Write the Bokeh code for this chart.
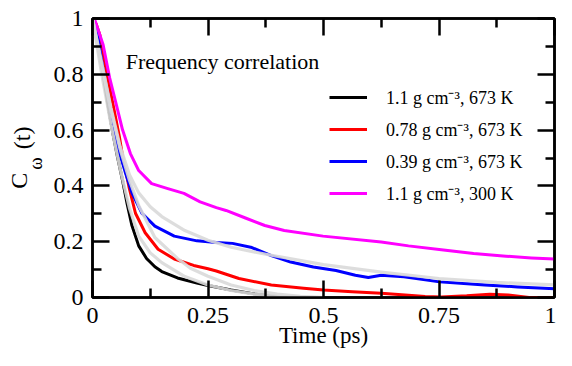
from bokeh.plotting import figure
from bokeh.layouts import row
from bokeh.models import (Range1d, LinearAxis, FixedTicker, CustomJSTickFormatter,
                          Label, Legend, LegendItem)
from bokeh.embed import file_html
from bokeh.resources import INLINE
import math

# ---- data ----
black_t = [0, 0.012, 0.023, 0.033, 0.044, 0.054, 0.065, 0.075, 0.085, 0.1, 0.117, 0.135,
           0.15, 0.184, 0.226, 0.25, 0.3, 0.35, 0.4, 0.45, 0.5]
black_c = [1, 0.906, 0.80, 0.695, 0.589, 0.505, 0.42, 0.335, 0.26, 0.185, 0.14, 0.11,
           0.093, 0.07, 0.052, 0.043, 0.027, 0.013, 0.004, 0.0, 0.0]

red_t = [0, 0.008, 0.016, 0.03, 0.044, 0.058, 0.065, 0.079, 0.093, 0.114, 0.142, 0.177,
         0.219, 0.25, 0.268, 0.317, 0.387, 0.457, 0.5, 0.562, 0.625, 0.684, 0.72, 0.755,
         0.81, 0.86, 0.9, 0.945, 1.0]
red_c = [1, 0.98, 0.941, 0.812, 0.695, 0.578, 0.507, 0.396, 0.302, 0.232, 0.173, 0.138,
         0.115, 0.103, 0.095, 0.068, 0.045, 0.033, 0.027, 0.021, 0.015, 0.008, 0.004, 0.002,
         0.006, 0.012, 0.009, 0.0, 0.0]

blue_t = [0, 0.012, 0.026, 0.037, 0.047, 0.058, 0.072, 0.086, 0.107, 0.135, 0.177, 0.226,
          0.268, 0.303, 0.345, 0.387, 0.429, 0.478, 0.527, 0.569, 0.597, 0.625, 0.674, 0.751,
          0.849, 0.92, 1.0]
blue_c = [1, 0.929, 0.788, 0.695, 0.601, 0.52, 0.443, 0.373, 0.302, 0.256, 0.220, 0.203,
          0.197, 0.194, 0.179, 0.150, 0.127, 0.109, 0.097, 0.08, 0.072, 0.08, 0.074, 0.056,
          0.045, 0.038, 0.031]

magenta_t = [0, 0.005, 0.023, 0.037, 0.051, 0.065, 0.082, 0.1, 0.128, 0.163, 0.198, 0.233,
             0.268, 0.289, 0.331, 0.373, 0.415, 0.499, 0.625, 0.684, 0.755, 0.825, 0.895,
             0.95, 1.0]
magenta_c = [1, 0.995, 0.906, 0.788, 0.695, 0.601, 0.516, 0.455, 0.408, 0.390, 0.373, 0.343,
             0.322, 0.312, 0.285, 0.258, 0.240, 0.220, 0.199, 0.185, 0.171, 0.158, 0.148,
             0.142, 0.138]

fitA_t = [0, 0.02, 0.04, 0.06, 0.08, 0.1, 0.125, 0.15, 0.2, 0.25, 0.3, 0.35, 0.4, 0.45, 0.5]
fitA_c = [1, 0.80, 0.62, 0.46, 0.32, 0.22, 0.16, 0.125, 0.075, 0.045, 0.025, 0.012, 0.005,
          0.001, 0.0]
fitB_t = [0, 0.02, 0.04, 0.06, 0.08, 0.1, 0.135, 0.184, 0.212, 0.25, 0.3, 0.35, 0.4, 0.45, 0.5]
fitB_c = [1, 0.83, 0.67, 0.53, 0.42, 0.33, 0.215, 0.14, 0.105, 0.076, 0.045, 0.025, 0.012,
          0.004, 0.0]
fitC_t = [0, 0.02, 0.04, 0.06, 0.08, 0.1, 0.125, 0.15, 0.2, 0.25, 0.3, 0.375, 0.5, 0.625,
          0.75, 0.875, 1.0]
fitC_c = [1, 0.84, 0.68, 0.54, 0.44, 0.375, 0.325, 0.29, 0.24, 0.205, 0.18, 0.155, 0.118,
          0.091, 0.068, 0.054, 0.045]

legend_labels = ["1.1 g cm\u207b\u00b3, 673 K", "0.78 g cm\u207b\u00b3, 673 K",
                 "0.39 g cm\u207b\u00b3, 673 K", "1.1 g cm\u207b\u00b3, 300 K"]
x_ticks = [0, 0.25, 0.5, 0.75, 1]
x_minor = [0.125, 0.375, 0.625, 0.875]
y_ticks = [0, 0.2, 0.4, 0.6, 0.8, 1]
y_minor = [0.1, 0.3, 0.5, 0.7, 0.9]

FONT = "Liberation Serif"
H = 350
LEFT_W = 50

# ---- main plot ----
p = figure(width=556 - LEFT_W, height=H, output_backend="svg", toolbar_location=None,
           x_range=Range1d(0, 1), y_range=Range1d(0, 1),
           min_border_left=92 - LEFT_W, min_border_right=2, min_border_top=18,
           min_border_bottom=52)
p.xgrid.visible = False
p.ygrid.visible = False
p.outline_line_color = "black"
p.outline_line_width = 2.5

# ---- narrow strip on the left holding the y-axis title C_omega (t) ----
# it shares the main plot's vertical range, so the title is placed along the axis
lp = figure(width=LEFT_W, height=H, output_backend="svg", toolbar_location=None,
            x_range=Range1d(0, LEFT_W), y_range=p.y_range,
            x_axis_type=None, y_axis_type=None, min_border=0,
            min_border_left=0, min_border_right=0, min_border_top=18, min_border_bottom=52)
lp.xgrid.visible = False
lp.ygrid.visible = False
lp.outline_line_color = None

def ylab(text, x, y, size):
    lp.add_layout(Label(x=x, y=y, text=text, angle=math.pi / 2, text_font=FONT,
                        text_font_size=size, text_color="black", text_align="left",
                        text_baseline="alphabetic"))

ylab("C", 18, 0.3895, "24px")
ylab("\u03c9", 35, 0.4579, "19px")
ylab("(t)", 21.5, 0.5316, "24px")

fmt = CustomJSTickFormatter(code="return String(Number(tick.toFixed(2)))")
blank = CustomJSTickFormatter(code="return ''")

def style_axis(ax, ticks, minor, labels=True):
    ax.ticker = FixedTicker(ticks=ticks, minor_ticks=minor)
    ax.formatter = fmt if labels else blank
    ax.axis_line_width = 2.5
    ax.axis_line_color = "black"
    ax.major_tick_in = 17
    ax.major_tick_out = 0
    ax.minor_tick_in = 9
    ax.minor_tick_out = 0
    ax.major_tick_line_width = 2.5
    ax.minor_tick_line_width = 2.5
    ax.major_label_text_font = FONT
    ax.major_label_text_font_size = "24px"
    ax.major_label_text_color = "black"

style_axis(p.xaxis[0], x_ticks, x_minor)
style_axis(p.yaxis[0], y_ticks, y_minor)
p.xaxis[0].major_label_standoff = 10
p.yaxis[0].major_label_standoff = 9
p.xaxis[0].axis_label = "Time (ps)"
p.xaxis[0].axis_label_text_font = FONT
p.xaxis[0].axis_label_text_font_size = "23px"
p.xaxis[0].axis_label_text_font_style = "normal"
p.xaxis[0].axis_label_text_color = "black"
p.xaxis[0].axis_label_standoff = -3

top = LinearAxis()
style_axis(top, x_ticks, x_minor, labels=False)
p.add_layout(top, "above")
right = LinearAxis()
style_axis(right, y_ticks, y_minor, labels=False)
p.add_layout(right, "right")

lw = 3
r_black = p.line(black_t, black_c, line_color="black", line_width=lw, line_join="round")
r_red = p.line(red_t, red_c, line_color="#ff0000", line_width=lw, line_join="round")
r_blue = p.line(blue_t, blue_c, line_color="#0000ff", line_width=lw, line_join="round")
r_mag = p.line(magenta_t, magenta_c, line_color="#ff00ff", line_width=lw, line_join="round")

gray = "#d9d9d9"
for ft, fc in [(fitA_t, fitA_c), (fitB_t, fitB_c), (fitC_t, fitC_c)]:
    p.line(ft, fc, line_color=gray, line_width=3.2, line_join="round", line_alpha=0.9)

legend = Legend(items=[LegendItem(label=legend_labels[0], renderers=[r_black]),
                       LegendItem(label=legend_labels[1], renderers=[r_red]),
                       LegendItem(label=legend_labels[2], renderers=[r_blue]),
                       LegendItem(label=legend_labels[3], renderers=[r_mag])],
                location=(237, 92))
legend.border_line_color = None
legend.background_fill_alpha = 0
legend.padding = 0
legend.margin = 0
legend.spacing = 8
legend.glyph_width = 38
legend.glyph_height = 20
legend.label_height = 20
legend.label_standoff = 19
legend.label_text_font = FONT
legend.label_text_font_size = "18px"
legend.label_text_color = "black"
p.add_layout(legend)

p.add_layout(Label(x=0.0718, y=0.8456, text="Frequency correlation", text_font=FONT,
                   text_font_size="22px", text_color="black", text_align="left",
                   text_baseline="alphabetic"))

layout = row(lp, p, spacing=0)
open("out.html", "w").write(file_html(layout, INLINE))
